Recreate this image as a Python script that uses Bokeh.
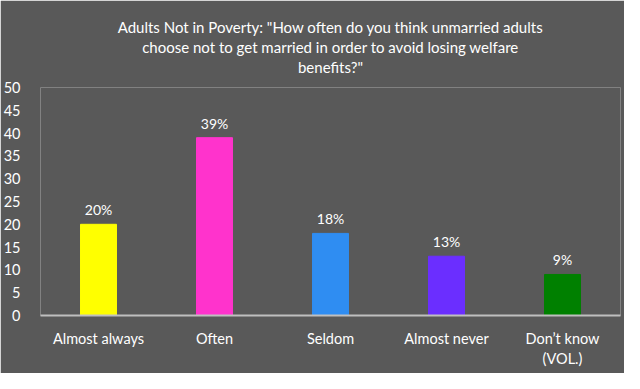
from bokeh.plotting import figure
from bokeh.models import ColumnDataSource, Range1d, FixedTicker, Title
from bokeh.core.properties import value
from bokeh.embed import file_html
from bokeh.resources import INLINE

categories = ["Almost always", "Often", "Seldom", "Almost never", "Don\u2019t know\n(VOL.)"]
values = [20, 39, 18, 13, 9]
colors = ["#FFFF00", "#FF33CC", "#2F8DF2", "#6B2EFF", "#008000"]
labels = [f"{v}%" for v in values]
y_ticks = [0, 5, 10, 15, 20, 25, 30, 35, 40, 45, 50]
title_lines = ['Adults Not in Poverty: "How often do you think unmarried adults',
               'choose not to get married in order to avoid losing welfare',
               'benefits?"']

FONT = "Lato"
BG = "#595959"

source = ColumnDataSource(dict(cat=categories, val=values, color=colors, label=labels))

p = figure(x_range=categories, y_range=Range1d(0, 50), width=624, height=373,
           output_backend="svg", toolbar_location=None,
           min_border_left=33, min_border_right=4, min_border_top=87, min_border_bottom=58)

# spacer between frame and title block
p.add_layout(Title(text=" ", text_font_size="9px", standoff=0, text_color=BG), "above")
# stack title lines: add bottom line first (closest to frame)
for line in reversed(title_lines):
    t = Title(text=line, align="center", text_color="white", text_font=FONT,
              text_font_size="15px", text_font_style="normal", standoff=0)
    p.add_layout(t, "above")

p.background_fill_color = BG
p.border_fill_color = BG
p.outline_line_color = None

p.vbar(x="cat", top="val", width=0.31, color="color", source=source)
p.text(x="cat", y="val", text="label", source=source, text_color="white",
       text_font=value(FONT), text_font_size="14px", text_align="center",
       text_baseline="bottom", y_offset=-6)

p.xgrid.visible = False
p.ygrid.visible = False

p.yaxis.ticker = FixedTicker(ticks=y_ticks)
p.yaxis.axis_line_color = None
p.yaxis.major_tick_line_color = None
p.yaxis.minor_tick_line_color = None
p.yaxis.major_label_text_color = "white"
p.yaxis.major_label_text_font = FONT
p.yaxis.major_label_text_font_size = "14.5px"
p.yaxis.major_label_standoff = 14

p.xaxis.axis_line_color = "#BFBFBF"
p.xaxis.axis_line_width = 2
p.xaxis.major_tick_line_color = None
p.xaxis.minor_tick_line_color = None
p.xaxis.major_label_text_color = "white"
p.xaxis.major_label_text_font = FONT
p.xaxis.major_label_text_font_size = "14.5px"
p.xaxis.major_label_standoff = 8
p.x_range.range_padding = 0.0

open("out.html", "w").write(file_html(p, INLINE))
